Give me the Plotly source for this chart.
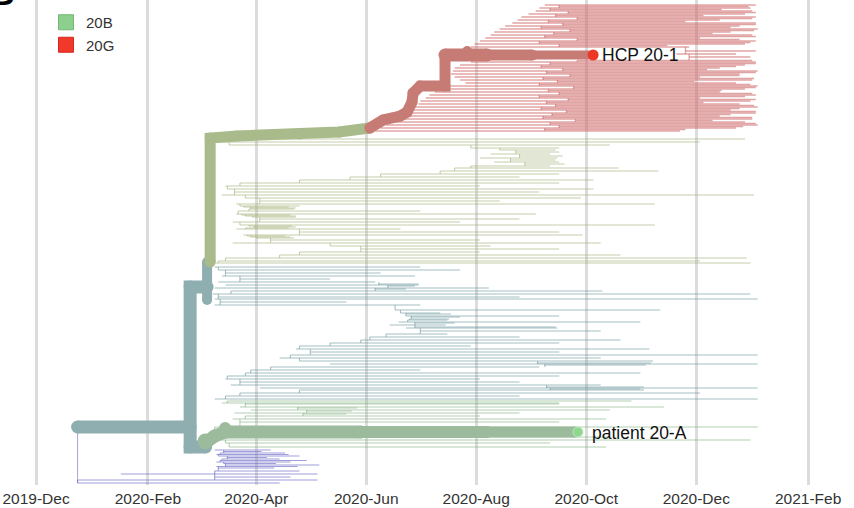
import pandas as pd
import plotly.graph_objects as go

# ---------------- data (x = days since 2019-12-01, y = tip order row) ----------------
BASE = "2019-12-01"

# 20G clade (red) tips
red_rows = [5, 6.5, 8, 9.5, 11, 12.5, 14, 15.5, 17, 18.5,
            20, 21.5, 23, 24.5, 26, 27.5, 29, 30.5, 32, 33.5,
            35, 36.5, 38, 39.5, 41, 42.5, 44, 45.5, 47, 51,
            54, 57, 60.5, 62, 63.5, 65, 66.5, 68, 69.5, 71,
            72.5, 74, 75.5, 77, 78.5, 80, 81.5, 83, 84.5, 86,
            87.5, 89, 90.5, 92, 93.5, 95, 96.5, 98, 99.5, 101,
            102.5, 104, 105.5, 107, 108.5, 110, 111.5, 113, 114.5, 116,
            117.5, 119, 120.5, 122, 123.5, 125, 126.5, 128, 129.5, 131]
red_start = [282, 290, 279, 285, 277, 295, 273, 288, 269, 300,
             267, 284, 264, 292, 260, 280, 257, 296, 254, 287,
             252, 282, 249, 300, 246, 279, 243, 290, 241, 360,
             355, 362, 300, 241, 285, 235, 280, 232, 292, 231,
             283, 230, 296, 232, 281, 235, 289, 238, 279, 230,
             298, 224, 284, 221, 290, 218, 279, 216, 295, 213,
             283, 212, 288, 210, 280, 207, 294, 205, 286, 202,
             281, 200, 299, 196, 285, 194, 290, 191, 282, 188]
red_end = [399, 395, 396, 380, 397, 399, 393, 370, 399, 397,
           379, 360, 399, 399, 390, 385, 400, 398, 385, 375,
           397, 399, 368, 390, 399, 396, 393, 350, 362, 399,
           388, 396, 397, 399, 399, 393, 388, 379, 372, 400,
           399, 390, 390, 368, 398, 397, 365, 388, 396, 400,
           399, 393, 380, 379, 397, 399, 393, 368, 399, 396,
           370, 390, 398, 400, 390, 385, 399, 399, 385, 379,
           397, 397, 375, 393, 399, 400, 392, 388, 360, 357]

# 20B sub-clade (olive) tips
olive_rows = [139, 142, 145, 148, 150, 152, 154, 156, 158, 160,
              162, 164, 166, 168, 171, 174, 177, 180, 183, 186,
              189, 192, 195, 198, 201, 204, 206, 207, 208, 209,
              211, 214, 215, 216, 217, 219, 222, 225, 226, 227,
              228, 229, 232, 235, 236, 237, 238, 240, 243, 246,
              249, 252, 255, 258, 261, 263]
olive_start = [98, 99, 107, 241, 257, 266, 252, 268, 246, 263,
               254, 271, 241, 232, 224, 191, 174, 146, 113, 105,
               106, 110, 103, 116, 124, 111, 113, 115, 119, 118,
               112, 111, 114, 116, 120, 124, 109, 113, 118, 121,
               116, 111, 146, 115, 117, 119, 122, 130, 109, 163,
               180, 146, 135, 105, 101, 99]
olive_end = [393, 368, 318, 290, 288, 290, 285, 292, 289, 288,
             290, 293, 285, 323, 345, 290, 268, 309, 290, 246,
             309, 279, 398, 302, 257, 343, 146, 140, 144, 143,
             213, 277, 141, 144, 144, 268, 235, 343, 142, 144,
             140, 202, 290, 303, 138, 141, 143, 246, 313, 252,
             290, 246, 324, 394, 368, 396]

# teal tips
teal_rows = [267, 270, 273, 276, 279, 282, 284, 285, 286, 288,
             289, 291, 294, 297, 299, 302, 305, 310, 313, 314,
             316, 317, 319, 320, 322, 323, 325, 327, 328, 331,
             334, 337, 340, 343, 346, 349, 352, 355, 358, 361,
             363, 364, 365, 367, 370, 373, 376, 379, 382, 385,
             387, 388, 389, 390, 393, 396, 399]
teal_start = [99, 101, 105, 103, 113, 101, 190, 105, 195, 99,
              188, 108, 98, 101, 99, 102, 99, 199, 202, 205,
              205, 208, 207, 206, 201, 210, 196, 210, 205, 213,
              194, 185, 180, 163, 146, 144, 152, 141, 135, 146,
              278, 163, 282, 130, 119, 116, 106, 105, 113, 108,
              283, 124, 285, 146, 113, 105, 99]
teal_end = [213, 235, 191, 210, 163, 188, 212, 212, 210, 251,
            205, 314, 396, 268, 400, 172, 213, 346, 224, 230,
            290, 235, 229, 228, 335, 232, 227, 288, 289, 313,
            228, 268, 324, 290, 241, 340, 290, 400, 313, 342,
            341, 400, 338, 279, 213, 335, 290, 246, 268, 313,
            337, 400, 335, 337, 368, 268, 400]

# lower green tips (around patient 20-A)
lgreen_rows = [401, 403, 404, 407, 408, 410, 411, 413, 414, 416,
               419, 422, 427, 437, 440, 443, 447]
lgreen_start = [106, 103, 116, 113, 145, 119, 150, 110, 148, 116,
                109, 113, 99, 99, 102, 105, 107]
lgreen_end = [330, 290, 290, 348, 178, 318, 175, 268, 172, 246,
              316, 290, 400, 318, 396, 285, 316]

# purple tips near the root
purple_rows = [450, 451.5, 453, 454.5, 456, 457.5, 459, 460.5, 462, 463.5,
               465, 466.5, 468, 471, 474, 477, 480, 483]
purple_start = [99, 104, 102, 100, 101, 106, 103, 102, 100, 104,
                105, 100, 101, 99, 47, 99, 23, 23]
purple_end = [130, 125, 138, 140, 146, 128, 135, 150, 141, 133,
              157, 145, 132, 146, 156, 141, 156, 135]

# highlighted ancestral paths
root_days, root_rows = [23, 85.4], [427, 427]
nodeA_days, nodeA_rows = [94, 85.4, 85.4, 94.8], [447, 447, 287, 287]
nodeB_days, nodeB_rows = [94.8, 94.8], [300, 262]
olive_path_days = [96.5, 96.5, 111.4, 146, 168, 185]
olive_path_rows = [262, 138, 136, 134, 132, 128]
red_step_days = [185, 192.4, 201.8, 205.7, 208.4, 209, 212.9, 226.7, 226.7]
red_step_rows = [128, 120, 116, 112, 102, 93, 86, 86, 55]
red_top_days = [226.7, 250, 275, 306]
red_top_rows = [55, 55, 55, 55]
green_path_days = [93.7, 99, 104.8, 180, 250, 299]
green_path_rows = [443, 436, 432, 432, 432, 432]

hcp_day, hcp_row = 308.8, 55
pat_day, pat_row = 300.4, 432
labels = ["HCP 20-1", "patient 20-A"]
legend_names = ["20B", "20G"]
tick_format = "%Y-%b"

# ---------------- helpers ----------------
base = pd.Timestamp(BASE)


def to_date(d):
    return base + pd.Timedelta(days=float(d))


def tip_xy(rows, starts, ends):
    xs, ys = [], []
    for r, s, e in zip(rows, starts, ends):
        xs += [to_date(s), to_date(e), None]
        ys += [r, r, None]
    pts = sorted(zip(rows, starts))
    for (r0, s0), (r1, s1) in zip(pts[:-1], pts[1:]):
        x = to_date(max(s0, s1))
        xs += [x, x, None]
        ys += [r0, r1, None]
    return xs, ys


fig = go.Figure()

tip_groups = [
    (red_rows, red_start, red_end, "rgba(206,108,108,0.62)", 1.3),
    (olive_rows, olive_start, olive_end, "rgba(160,178,118,0.6)", 1.1),
    (teal_rows, teal_start, teal_end, "rgba(108,150,158,0.6)", 1.1),
    (lgreen_rows, lgreen_start, lgreen_end, "rgba(128,176,128,0.6)", 1.1),
    (purple_rows, purple_start, purple_end, "rgba(108,108,200,0.65)", 1.1),
]
for rows, st, en, col, w in tip_groups:
    xs, ys = tip_xy(rows, st, en)
    fig.add_trace(go.Scatter(x=xs, y=ys, mode="lines", line=dict(color=col, width=w),
                             hoverinfo="skip", showlegend=False))

# root connector to the lower tips
fig.add_trace(go.Scatter(x=[to_date(root_days[0])] * 2, y=[root_rows[0], purple_rows[-1]],
                         mode="lines", line=dict(color="rgba(108,108,200,0.6)", width=1),
                         hoverinfo="skip", showlegend=False))


def thick(days, rows, color, width):
    fig.add_trace(go.Scatter(x=[to_date(d) for d in days], y=rows, mode="lines+markers",
                             line=dict(color=color, width=width),
                             marker=dict(color=color, size=width, opacity=1, line=dict(width=0)),
                             hoverinfo="skip", showlegend=False))


TEAL = "#8eaeb0"
OLIVE = "#a9ba8b"
RED = "#c77b75"
LGREEN = "#9cbb9c"

thick(root_days, root_rows, TEAL, 13)
thick(nodeA_days, nodeA_rows, TEAL, 13)
thick(nodeB_days, nodeB_rows, TEAL, 10)
thick(olive_path_days, olive_path_rows, OLIVE, 11)
thick(red_step_days, red_step_rows, RED, 11)
for i, w in enumerate([13, 11, 9]):
    thick(red_top_days[i:i + 2], red_top_rows[i:i + 2], RED, w)
for i, w in enumerate([13, 13, 13, 12, 11]):
    thick(green_path_days[i:i + 2], green_path_rows[i:i + 2], LGREEN, w)

# small bumps on the paths
fig.add_trace(go.Scatter(x=[to_date(239)], y=[51], mode="markers",
                         marker=dict(color=RED, size=10, opacity=1, line=dict(width=0)),
                         hoverinfo="skip", showlegend=False))
fig.add_trace(go.Scatter(x=[to_date(93.7), to_date(104.8)], y=[441, 428], mode="markers",
                         marker=dict(color=LGREEN, size=[15, 12], opacity=1, line=dict(width=0)),
                         hoverinfo="skip", showlegend=False))

# highlighted tips
fig.add_trace(go.Scatter(x=[to_date(hcp_day)], y=[hcp_row], mode="markers",
                         marker=dict(color="#ec3626", size=11, opacity=1, line=dict(width=0)),
                         hoverinfo="skip", showlegend=False))
fig.add_trace(go.Scatter(x=[to_date(pat_day)], y=[pat_row], mode="markers",
                         marker=dict(color="#8ed88e", size=10, opacity=1, line=dict(color="#bfeabf", width=1)),
                         hoverinfo="skip", showlegend=False))

fig.add_annotation(x=to_date(hcp_day + 4), y=hcp_row, text=labels[0], showarrow=False,
                   xanchor="left", yanchor="middle", font=dict(size=17.5, color="#111"))
fig.add_annotation(x=to_date(pat_day + 6.5), y=pat_row + 1, text=labels[1], showarrow=False,
                   xanchor="left", yanchor="middle", font=dict(size=17.5, color="#111"))

# legend entries
fig.add_trace(go.Scatter(x=[None], y=[None], mode="markers", name=legend_names[0],
                         marker=dict(symbol="square", size=15, color="#8dcf8d",
                                     line=dict(color="#72b872", width=1))))
fig.add_trace(go.Scatter(x=[None], y=[None], mode="markers", name=legend_names[1],
                         marker=dict(symbol="square", size=15, color="#f0392b",
                                     line=dict(color="#d02a1e", width=1))))

# cropped panel letter at the top-left corner
fig.add_annotation(xref="paper", yref="paper", x=0, y=1, text="<b>B</b>", showarrow=False,
                   xanchor="right", yanchor="bottom", xshift=17, yshift=-14,
                   font=dict(size=34, color="black"))

fig.update_layout(
    width=854, height=508,
    margin=dict(l=0, r=0, t=0, b=23),
    paper_bgcolor="white", plot_bgcolor="white",
    font=dict(family="Liberation Sans, Arial, sans-serif", color="#333"),
    showlegend=True,
    legend=dict(x=46 / 854, y=1 - 6 / 485, xanchor="left", yanchor="top",
                bgcolor="rgba(0,0,0,0)", font=dict(size=15, color="#333"),
                itemsizing="trace", tracegroupgap=0),
)
fig.update_xaxes(type="date", range=["2019-11-11", "2021-02-26 10:00"],
                 tick0="2019-12-01", dtick="M2", tickformat=tick_format,
                 showgrid=True, gridcolor="#dcdcdc", gridwidth=2.5,
                 zeroline=False, showline=False, ticks="", ticklabelstandoff=2,
                 tickfont=dict(size=15.5, color="#333"), automargin=False)
fig.update_yaxes(range=[485, 0], showgrid=False, zeroline=False, showline=False,
                 showticklabels=False, automargin=False)

fig.write_html("out.html", config={"displayModeBar": False},
               post_script="document.body.style.margin='0';")
